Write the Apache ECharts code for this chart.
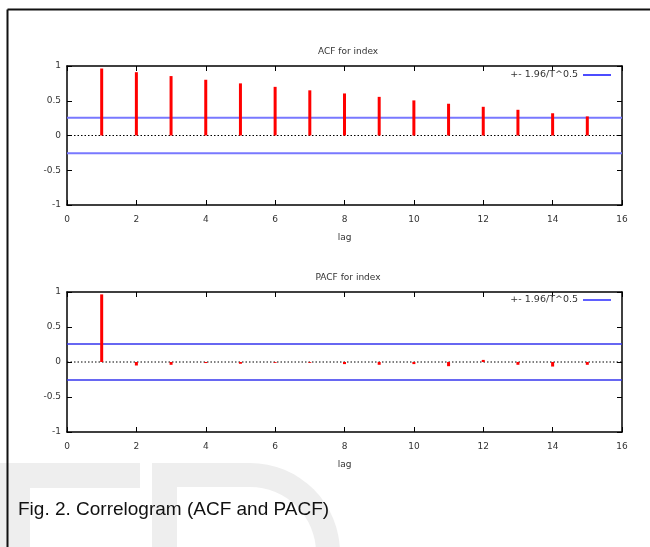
<!DOCTYPE html>
<html>
<head>
<meta charset="utf-8">
<script src="https://cdn.jsdelivr.net/npm/echarts@6/dist/echarts.min.js"></script>
<style>
  html, body { margin: 0; padding: 0; background: #fff; }
  #main { width: 650px; height: 547px; }
</style>
</head>
<body>
<div id="main"></div>
<script>
// lags 1..15
const lags = [1, 2, 3, 4, 5, 6, 7, 8, 9, 10, 11, 12, 13, 14, 15]
const acfValues = [0.964, 0.911, 0.855, 0.802, 0.75, 0.70, 0.65, 0.605, 0.556, 0.505, 0.457, 0.413, 0.37, 0.32, 0.275]
const pacfValues = [0.966, -0.05, -0.04, -0.015, -0.025, -0.012, -0.012, -0.03, -0.04, -0.03, -0.06, 0.03, -0.04, -0.065, -0.04]
const band = 0.257 // 1.96 / T^0.5
const xRange = [0, 16]
const yTicks = [-1, -0.5, 0, 0.5, 1]
const bandName = '+- 1.96/T^0.5'

const myChart = echarts.init(document.getElementById('main'))
const font = 'DejaVu Sans'
const txt = '#333'

const pairs = (vals) => lags.map((l, i) => [l, vals[i]])
const hline = (v) => [[xRange[0], v], [xRange[1], v]]

// 两个图的公共坐标轴设置
const xAxisFor = (gi, withName) => ([{
  gridIndex: gi, type: 'value', min: xRange[0], max: xRange[1], interval: 2,
  axisLine: { onZero: false, lineStyle: { color: '#000', width: 1.5 } },
  axisTick: { inside: true, length: 5, lineStyle: { color: '#000' } },
  axisLabel: { color: txt, fontSize: 9, fontFamily: font, margin: 10 },
  splitLine: { show: false },
  name: withName ? 'lag' : '', nameLocation: 'middle', nameGap: 33,
  nameTextStyle: { color: txt, fontSize: 9, fontFamily: font, verticalAlign: 'middle' }
}, {
  gridIndex: gi, type: 'value', position: 'top', min: xRange[0], max: xRange[1], interval: 2,
  axisLine: { onZero: false, lineStyle: { color: '#000', width: 1.5 } },
  axisTick: { inside: true, length: 5, lineStyle: { color: '#000' } },
  axisLabel: { show: false }, splitLine: { show: false }
}])

const yAxisFor = (gi) => ([{
  gridIndex: gi, type: 'value', min: yTicks[0], max: yTicks[yTicks.length - 1], interval: 0.5,
  axisLine: { onZero: false, lineStyle: { color: '#000', width: 1.5 } },
  axisTick: { inside: true, length: 5, lineStyle: { color: '#000' } },
  axisLabel: { color: txt, fontSize: 9, fontFamily: font, margin: 6 },
  splitLine: { show: false }
}, {
  gridIndex: gi, type: 'value', position: 'right', min: yTicks[0], max: yTicks[yTicks.length - 1], interval: 0.5,
  axisLine: { onZero: false, lineStyle: { color: '#000', width: 1.5 } },
  axisTick: { inside: true, length: 5, lineStyle: { color: '#000' } },
  axisLabel: { show: false }, splitLine: { show: false }
}])

const seriesFor = (gi, vals, bandColor, bandWidth) => {
  const xi = gi * 2, yi = gi * 2
  return [{
    type: 'line', name: bandName, xAxisIndex: xi, yAxisIndex: yi,
    data: hline(band), symbol: 'none', silent: true,
    lineStyle: { color: bandColor, width: bandWidth }, z: 2
  }, {
    type: 'line', name: bandName, xAxisIndex: xi, yAxisIndex: yi,
    data: hline(-band), symbol: 'none', silent: true,
    lineStyle: { color: bandColor, width: bandWidth }, z: 2
  }, {
    type: 'line', name: 'zero', xAxisIndex: xi, yAxisIndex: yi,
    data: hline(0), symbol: 'none', silent: true,
    lineStyle: { color: '#000', width: 1, type: [1.5, 2] }, z: 2
  }, {
    type: 'bar', name: gi === 0 ? 'ACF' : 'PACF', xAxisIndex: xi, yAxisIndex: yi,
    data: pairs(vals), barWidth: 3,
    itemStyle: { color: '#ff0000' }, z: 3
  }]
}

const legendFor = (top, color) => ({
  data: [bandName], right: 39, top: top, padding: 0, align: 'right',
  icon: 'rect', itemWidth: 28, itemHeight: 1.5, selectedMode: false,
  itemStyle: { color: color },
  textStyle: { color: txt, fontSize: 9.5, fontFamily: font }
})

const wm = '#eeeeee'
const option = {
  animation: false,
  backgroundColor: '#fff',
  title: [{
    text: 'ACF for index', left: 343, top: 42, textAlign: 'center',
    textStyle: { color: txt, fontSize: 9, fontWeight: 'normal', fontFamily: font }
  }, {
    text: 'PACF for index', left: 343, top: 268, textAlign: 'center',
    textStyle: { color: txt, fontSize: 9, fontWeight: 'normal', fontFamily: font }
  }],
  legend: [legendFor(70, '#1010ff'), legendFor(295, '#2a2aff')],
  grid: [
    { left: 67, top: 66, width: 555, height: 139 },
    { left: 67, top: 292, width: 555, height: 140 }
  ],
  xAxis: [...xAxisFor(0, true), ...xAxisFor(1, true)],
  yAxis: [...yAxisFor(0), ...yAxisFor(1)],
  series: [
    ...seriesFor(0, acfValues, '#7878ff', 2),
    ...seriesFor(1, pacfValues, '#3434ee', 1.5)
  ],
  graphic: [
    // 背景水印 F
    { type: 'rect', z: -10, silent: true, shape: { x: 0, y: 463, width: 140, height: 25 }, style: { fill: wm } },
    { type: 'rect', z: -10, silent: true, shape: { x: 0, y: 463, width: 30, height: 84 }, style: { fill: wm } },
    // 背景水印 D
    { type: 'rect', z: -10, silent: true, shape: { x: 152, y: 463, width: 99, height: 84 }, style: { fill: wm } },
    { type: 'sector', z: -10, silent: true,
      shape: { cx: 250, cy: 553, r0: 0, r: 90, startAngle: -Math.PI / 2, endAngle: 0, clockwise: true },
      style: { fill: wm } },
    { type: 'rect', z: -9, silent: true, shape: { x: 177, y: 487, width: 74, height: 60 }, style: { fill: '#fff' } },
    { type: 'sector', z: -9, silent: true,
      shape: { cx: 250, cy: 553, r0: 0, r: 66, startAngle: -Math.PI / 2, endAngle: 0, clockwise: true },
      style: { fill: '#fff' } },
    // 外框
    { type: 'line', z: 5, silent: true, shape: { x1: 7.5, y1: 9.5, x2: 650, y2: 9.5 }, style: { stroke: '#111', lineWidth: 2 } },
    { type: 'line', z: 5, silent: true, shape: { x1: 7.5, y1: 9.5, x2: 7.5, y2: 547 }, style: { stroke: '#111', lineWidth: 2 } },
    // 图注
    { type: 'text', z: 10, left: 18, top: 500, silent: true,
      style: { text: 'Fig. 2. Correlogram (ACF and PACF)', fill: '#111', fontSize: 19, fontFamily: 'Liberation Sans' } }
  ]
}
myChart.setOption(option)
</script>
</body>
</html>
